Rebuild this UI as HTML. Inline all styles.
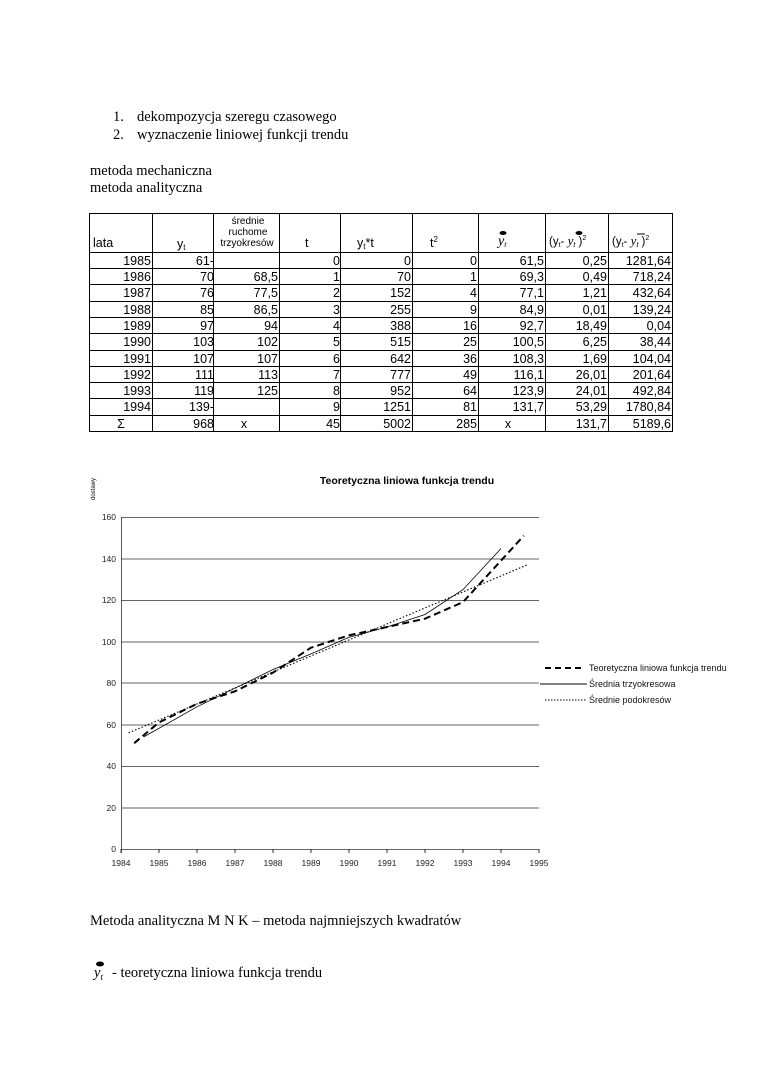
<!DOCTYPE html>
<html><head><meta charset="utf-8"><style>
html,body{margin:0;padding:0;background:#fff;}
svg{display:block}
.s{font-family:"Liberation Serif",serif;font-size:14.5px;fill:#000}
.t{font-family:"Liberation Sans",sans-serif;font-size:12.5px;fill:#000}
.a{font-family:"Liberation Sans",sans-serif;font-size:8.5px;fill:#222}
</style></head><body>
<svg width="760" height="1075" viewBox="0 0 760 1075" xmlns="http://www.w3.org/2000/svg">
<text class="s" x="113" y="121">1.</text><text class="s" x="137" y="121">dekompozycja szeregu czasowego</text>
<text class="s" x="113" y="139">2.</text><text class="s" x="137" y="139">wyznaczenie liniowej funkcji trendu</text>
<text class="s" x="90" y="175">metoda mechaniczna</text>
<text class="s" x="90" y="192">metoda analityczna</text>
<g id="tbl" stroke="#000" stroke-width="1">
<rect x="89.5" y="213.5" width="583" height="218" fill="none"/>
<line x1="152.5" y1="213" x2="152.5" y2="432"/><line x1="213.5" y1="213" x2="213.5" y2="432"/>
<line x1="279.5" y1="213" x2="279.5" y2="432"/><line x1="340.5" y1="213" x2="340.5" y2="432"/>
<line x1="412.5" y1="213" x2="412.5" y2="432"/><line x1="478.5" y1="213" x2="478.5" y2="432"/>
<line x1="545.5" y1="213" x2="545.5" y2="432"/><line x1="608.5" y1="213" x2="608.5" y2="432"/>
<line x1="89" y1="252.5" x2="672" y2="252.5"/>
<line x1="89" y1="268.5" x2="672" y2="268.5"/><line x1="89" y1="284.5" x2="672" y2="284.5"/>
<line x1="89" y1="301.5" x2="672" y2="301.5"/><line x1="89" y1="317.5" x2="672" y2="317.5"/>
<line x1="89" y1="333.5" x2="672" y2="333.5"/><line x1="89" y1="350.5" x2="672" y2="350.5"/>
<line x1="89" y1="366.5" x2="672" y2="366.5"/><line x1="89" y1="382.5" x2="672" y2="382.5"/>
<line x1="89" y1="398.5" x2="672" y2="398.5"/><line x1="89" y1="415.5" x2="672" y2="415.5"/>
</g>
<g class="t">
<text x="93" y="247">lata</text><text x="177" y="248">y<tspan font-size="8" dy="2">t</tspan></text>
<text x="248" y="224" font-size="10" text-anchor="middle">średnie</text>
<text x="248" y="235" font-size="10" text-anchor="middle">ruchome</text>
<text x="247" y="246" font-size="10" text-anchor="middle">trzyokresów</text>
<text x="305" y="247">t</text><text x="357" y="247">y<tspan font-size="8" dy="2">t</tspan><tspan dy="-2">*t</tspan></text>
<text x="430" y="247">t<tspan font-size="8" dy="-5">2</tspan></text>
<text x="498" y="245" font-family="Liberation Serif" font-style="italic" font-size="14">y<tspan font-size="8" dy="2">t</tspan></text>
<ellipse cx="503" cy="233" rx="3.5" ry="2"/>
<text x="549" y="245" font-size="11.5">(y<tspan font-size="7" dy="2">t</tspan><tspan dy="-2">- </tspan><tspan font-family="Liberation Serif" font-style="italic" font-size="13">y</tspan><tspan font-size="7" dy="2" font-style="italic">t</tspan><tspan dy="-2"> )</tspan><tspan font-size="7" dy="-5">2</tspan></text>
<ellipse cx="579" cy="233" rx="3.5" ry="2"/>
<text x="612" y="245" font-size="11.5">(y<tspan font-size="7" dy="2">t</tspan><tspan dy="-2">- </tspan><tspan font-family="Liberation Serif" font-style="italic" font-size="13">y</tspan><tspan font-size="7" dy="2" font-style="italic">t</tspan><tspan dy="-2"> )</tspan><tspan font-size="7" dy="-5">2</tspan></text>
<line x1="637" y1="234" x2="645" y2="234" stroke="#000"/>
</g>
<g class="t" text-anchor="end" id="rows"></g>
<!-- chart -->
<g font-family="Liberation Sans,sans-serif">
<text x="407" y="484" font-size="10.5" font-weight="bold" text-anchor="middle">Teoretyczna liniowa funkcja trendu</text>
<text x="0" y="0" font-size="6" transform="translate(95,500) rotate(-90)">dostawy</text>
<g stroke="#333" stroke-width="0.8">
<line x1="121" y1="517.5" x2="539" y2="517.5"/><line x1="121" y1="559" x2="539" y2="559"/>
<line x1="121" y1="600.5" x2="539" y2="600.5"/><line x1="121" y1="642" x2="539" y2="642"/>
<line x1="121" y1="683" x2="539" y2="683"/><line x1="121" y1="725" x2="539" y2="725"/>
<line x1="121" y1="766.5" x2="539" y2="766.5"/><line x1="121" y1="808" x2="539" y2="808"/>
<line x1="121" y1="849.5" x2="539" y2="849.5"/><line x1="121.5" y1="517" x2="121.5" y2="853"/>
</g>
<g font-size="8.5" fill="#222" text-anchor="end">
<text x="116" y="520">160</text><text x="116" y="562">140</text><text x="116" y="603">120</text>
<text x="116" y="645">100</text><text x="116" y="686">80</text><text x="116" y="728">60</text>
<text x="116" y="769">40</text><text x="116" y="811">20</text><text x="116" y="852">0</text>
</g>
<g font-size="8.5" fill="#222" text-anchor="middle" id="xl"></g>
<g fill="none" stroke="#000">
<polyline stroke-width="2" stroke-dasharray="7,4" points="134.2,743.2 159,722.4 197,703.8 235,691.3 273,672.6 311,647.7 349,635.3 387,627 425,618.7 463,602.1 501,560.6 523.8,535.7"/>
<polyline stroke-width="0.8" points="143.8,736.9 197,706.8 235,688.2 273,669.5 311,653.9 349,637.3 387,627 425,614.5 463,589.6 501,548.5"/>
<polyline stroke-width="1.1" stroke-dasharray="1.5,2" points="128.6,732.8 527.6,564.7"/>
</g>
<g font-size="9" fill="#111">
<line x1="545" y1="668" x2="585" y2="668" stroke="#000" stroke-width="2" stroke-dasharray="6,4"/>
<text x="589" y="671">Teoretyczna liniowa funkcja trendu</text>
<line x1="540" y1="684" x2="587" y2="684" stroke="#000" stroke-width="1"/>
<text x="589" y="687">Średnia trzyokresowa</text>
<line x1="545" y1="700" x2="587" y2="700" stroke="#000" stroke-width="1" stroke-dasharray="1.5,1.5"/>
<text x="589" y="703">Średnie podokresów</text>
</g>
</g>
<text class="s" x="90" y="925">Metoda analityczna M N K – metoda najmniejszych kwadratów</text>
<text class="s" x="94" y="977" font-style="italic" font-size="16">y<tspan font-size="9" dy="3">t</tspan></text>
<ellipse cx="100" cy="964" rx="4" ry="2.5"/>
<text class="s" x="112" y="977">- teoretyczna liniowa funkcja trendu</text>
</svg>
<script>
var d=[["1985","61-","","0","0","0","61,5","0,25","1281,64"],["1986","70","68,5","1","70","1","69,3","0,49","718,24"],["1987","76","77,5","2","152","4","77,1","1,21","432,64"],["1988","85","86,5","3","255","9","84,9","0,01","139,24"],["1989","97","94","4","388","16","92,7","18,49","0,04"],["1990","103","102","5","515","25","100,5","6,25","38,44"],["1991","107","107","6","642","36","108,3","1,69","104,04"],["1992","111","113","7","777","49","116,1","26,01","201,64"],["1993","119","125","8","952","64","123,9","24,01","492,84"],["1994","139-","","9","1251","81","131,7","53,29","1780,84"],["Σ","968","x","45","5002","285","x","131,7","5189,6"]];
var R=[152,215,279,341,412,478,545,608,672],ys=[252,268,284,301,317,333,350,366,382,398,415];
var g=document.getElementById("rows"),ns="http://www.w3.org/2000/svg";
d.forEach(function(r,i){r.forEach(function(v,j){var t=document.createElementNS(ns,"text");var x=R[j]-1;
if(i==10&&(j==0)){x=121;t.setAttribute("text-anchor","middle");}
if(i==10&&(j==2||j==6)){x=(j==2?244:508);t.setAttribute("text-anchor","middle");}
t.setAttribute("x",x);t.setAttribute("y",ys[i]+13);t.textContent=v;g.appendChild(t);});});
var xl=document.getElementById("xl");for(var k=0;k<=11;k++){var t=document.createElementNS(ns,"text");t.setAttribute("x",121+k*38);t.setAttribute("y",866);t.textContent=1984+k;xl.appendChild(t);
var l=document.createElementNS(ns,"line");l.setAttribute("x1",121+k*38);l.setAttribute("x2",121+k*38);l.setAttribute("y1",849);l.setAttribute("y2",853);l.setAttribute("stroke","#333");xl.appendChild(l);}
</script>
</body></html>
